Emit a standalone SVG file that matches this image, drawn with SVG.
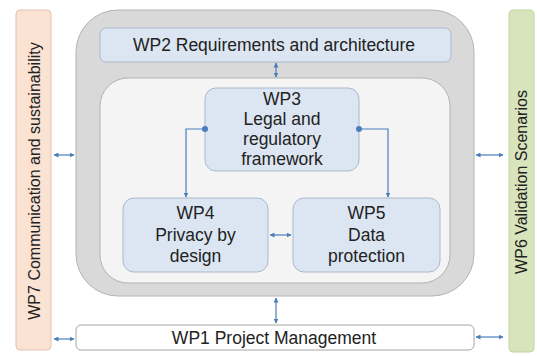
<svg xmlns="http://www.w3.org/2000/svg" width="537" height="356" viewBox="0 0 537 356">
  <defs>
    <style>
      .lbl { font-family: "Liberation Sans", Arial, sans-serif; font-size: 17.5px; fill: #222222; text-anchor: middle; }
      .vlbl { font-family: "Liberation Sans", Arial, sans-serif; font-size: 16px; fill: #222222; text-anchor: middle; }
      .wp { fill: #dce6f2; stroke: #a9b8cc; stroke-width: 1; }
      .conn { fill: none; stroke: #4a7ebb; stroke-width: 1.2; }
    </style>
    <marker id="arrow" viewBox="0 0 10 10" refX="9" refY="5" markerWidth="5" markerHeight="5" orient="auto-start-reverse" markerUnits="userSpaceOnUse">
      <path d="M0,0 L10,5 L0,10 z" fill="#4a7ebb"/>
    </marker>
    <marker id="dot" viewBox="0 0 10 10" refX="5" refY="5" markerWidth="6" markerHeight="6" markerUnits="userSpaceOnUse">
      <circle cx="5" cy="5" r="5" fill="#4a7ebb"/>
    </marker>
  </defs>

  <rect width="537" height="356" fill="#ffffff"/>

  <!-- side bars -->
  <g id="wp7">
    <rect x="16" y="10" width="35" height="340" rx="4" fill="#fbe3d3" stroke="#e2c2ac"/>
    <text class="vlbl" transform="translate(40,181) rotate(-90)">WP7 Communication and sustainability</text>
  </g>
  <g id="wp6">
    <rect x="509" y="10" width="25" height="342" rx="4" fill="#d8e4bc" stroke="#c2d49e"/>
    <text class="vlbl" transform="translate(527,182) rotate(-90)">WP6 Validation Scenarios</text>
  </g>

  <!-- core container: gray ring with inner panel -->
  <g id="core">
    <rect x="76" y="10" width="398" height="286" rx="42" fill="#d9d9d9" stroke="#b3b3b3"/>
    <rect x="100" y="78" width="350" height="205" rx="28" fill="#f4f4f4" stroke="#b3b3b3"/>
  </g>

  <g id="wp2">
    <rect class="wp" x="100" y="28" width="351" height="34" rx="6"/>
    <text class="lbl" x="274" y="51">WP2 Requirements and architecture</text>
  </g>

  <g id="wp3">
    <rect class="wp" x="205" y="88" width="154" height="83" rx="11"/>
    <text class="lbl" x="282" y="105">WP3</text>
    <text class="lbl" x="282" y="125">Legal and</text>
    <text class="lbl" x="282" y="145">regulatory</text>
    <text class="lbl" x="282" y="165">framework</text>
  </g>

  <g id="wp4">
    <rect class="wp" x="123" y="198" width="145" height="74" rx="11"/>
    <text class="lbl" x="195.5" y="219">WP4</text>
    <text class="lbl" x="195.5" y="241">Privacy by</text>
    <text class="lbl" x="195.5" y="262">design</text>
  </g>

  <g id="wp5">
    <rect class="wp" x="293" y="198" width="147" height="74" rx="11"/>
    <text class="lbl" x="366.5" y="219">WP5</text>
    <text class="lbl" x="366.5" y="241">Data</text>
    <text class="lbl" x="366.5" y="262">protection</text>
  </g>

  <g id="wp1">
    <rect x="76" y="325" width="398" height="25" rx="5" fill="#ffffff" stroke="#a6a6a6"/>
    <text class="lbl" x="274" y="344">WP1 Project Management</text>
  </g>

  <!-- connectors -->
  <g id="connectors">
    <line class="conn" x1="54" y1="155" x2="74" y2="155" marker-start="url(#arrow)" marker-end="url(#arrow)"/>
    <line class="conn" x1="54" y1="339" x2="74" y2="339" marker-start="url(#arrow)" marker-end="url(#arrow)"/>
    <line class="conn" x1="476" y1="155" x2="503" y2="155" marker-start="url(#arrow)" marker-end="url(#arrow)"/>
    <line class="conn" x1="476" y1="337" x2="503" y2="337" marker-start="url(#arrow)" marker-end="url(#arrow)"/>
    <line class="conn" x1="276" y1="63" x2="276" y2="77" marker-start="url(#arrow)" marker-end="url(#arrow)"/>
    <line class="conn" x1="276" y1="298" x2="276" y2="323" marker-start="url(#arrow)" marker-end="url(#arrow)"/>
    <line class="conn" x1="270" y1="235" x2="291" y2="235" marker-start="url(#arrow)" marker-end="url(#arrow)"/>
    <path class="conn" d="M205,129 H186 V197" marker-start="url(#dot)" marker-end="url(#arrow)"/>
    <path class="conn" d="M359,129 H388 V197" marker-start="url(#dot)" marker-end="url(#arrow)"/>
  </g>
</svg>
